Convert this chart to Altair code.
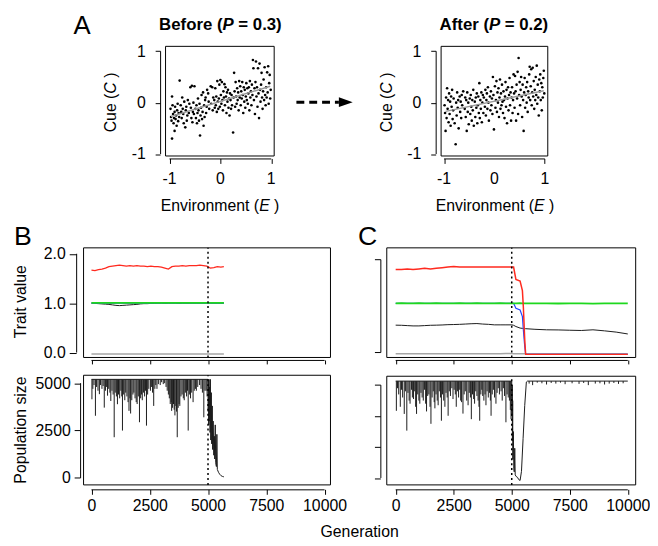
import altair as alt
import pandas as pd

FONT = "Liberation Sans"
RED, GREEN, BLUE, BLACK, GRAY = "#ff2a1f", "#1ed81e", "#2244ff", "#1a1a1a", "#a6a6a6"

# ---------------- Panel A: cue vs environment ----------------
BEFORE = [
    (-0.98, -0.12), (-0.97, -0.28), (-0.96, -0.35), (-0.95, -0.70), (-0.95, 0.12), (-0.94, -0.05),
    (-0.93, -0.22), (-0.92, -0.40), (-0.91, -0.30), (-0.90, -0.18), (-0.90, -0.55),
    (-0.89, -0.08), (-0.88, -0.32), (-0.87, -0.25), (-0.86, -0.45), (-0.85, -0.15), (-0.84, -0.02),
    (-0.83, -0.36), (-0.82, -0.20), (-0.80, 0.43), (-0.81, -0.28),
    (-0.78, -0.05), (-0.77, -0.18), (-0.76, -0.30), (-0.75, 0.10), (-0.74, -0.12), (-0.73, -0.22),
    (-0.72, -0.40), (-0.71, 0.02),
    (-0.69, -0.48), (-0.68, -0.15), (-0.67, -0.08), (-0.66, -0.35), (-0.65, -0.25), (-0.64, 0.05),
    (-0.62, -0.20), (-0.61, -0.02),
    (-0.59, 0.30), (-0.58, -0.10), (-0.57, -0.30), (-0.56, 0.33), (-0.55, -0.38), (-0.54, -0.18),
    (-0.53, 0.00), (-0.52, -0.22), (-0.51, 0.32),
    (-0.49, -0.12), (-0.48, -0.30), (-0.47, -0.05), (-0.46, -0.40), (-0.45, -0.20), (-0.44, 0.08),
    (-0.43, -0.15), (-0.42, -0.35), (-0.40, -0.64), (-0.41, -0.02),
    (-0.39, -0.25), (-0.38, -0.10), (-0.37, 0.15), (-0.36, -0.32), (-0.35, -0.18), (-0.34, 0.20),
    (-0.33, -0.45), (-0.32, -0.05), (-0.31, -0.28), (-0.30, 0.05),
    (-0.29, 0.10), (-0.28, -0.20), (-0.27, -0.08), (-0.26, 0.25), (-0.24, 0.18), (-0.23, 0.02),
    (-0.22, -0.12),
    (-0.19, 0.32), (-0.18, -0.02), (-0.16, 0.30), (-0.15, -0.15), (-0.14, 0.10), (-0.12, 0.05),
    (-0.11, -0.10), (-0.10, 0.28),
    (-0.09, -0.05), (-0.08, 0.12), (-0.07, -0.18), (-0.06, 0.42), (-0.05, 0.02), (-0.04, -0.12),
    (-0.03, 0.08), (-0.02, 0.35), (-0.01, -0.08),
    (0.00, 0.44), (0.01, 0.15), (0.02, -0.02), (0.03, 0.40), (0.04, 0.05), (0.05, -0.15),
    (0.06, 0.22), (0.07, 0.10), (0.08, 0.36), (0.09, -0.05),
    (0.10, 0.30), (0.11, 0.12), (0.12, -0.20), (0.13, 0.20), (0.14, 0.02), (0.15, 0.25),
    (0.16, -0.10), (0.17, 0.08), (0.18, -0.25), (0.19, 0.18),
    (0.20, 0.05), (0.21, -0.12), (0.22, 0.15), (0.23, -0.05), (0.25, -0.58), (0.26, 0.10),
    (0.27, 0.58), (0.28, 0.22), (0.29, -0.08),
    (0.30, 0.40), (0.31, 0.12), (0.32, -0.02), (0.33, 0.28), (0.34, 0.05), (0.35, 0.20),
    (0.36, -0.15), (0.37, 0.42), (0.38, 0.10), (0.39, 0.32),
    (0.40, -0.05), (0.41, 0.22), (0.42, 0.08), (0.43, 0.40), (0.44, 0.15), (0.45, -0.20),
    (0.46, 0.30), (0.47, 0.02), (0.48, 0.25), (0.49, -0.10),
    (0.50, 0.12), (0.51, 0.38), (0.52, 0.05), (0.53, 0.28), (0.54, -0.02), (0.55, 0.18),
    (0.56, 0.30), (0.57, -0.15), (0.58, 0.42), (0.59, 0.10),
    (0.60, 0.22), (0.61, -0.05), (0.62, 0.35), (0.63, 0.15), (0.64, 0.83), (0.65, 0.67),
    (0.66, 0.05), (0.67, 0.28), (0.68, -0.22), (0.69, 0.40), (0.70, 0.80),
    (0.71, 0.12), (0.72, 0.30), (0.73, -0.08), (0.74, 0.67), (0.75, 0.18), (0.76, -0.30),
    (0.77, 0.76), (0.78, 0.25), (0.79, 0.02),
    (0.80, 0.35), (0.81, 0.58), (0.82, 0.10), (0.83, -0.12), (0.84, 0.22), (0.85, 0.45),
    (0.86, 0.05), (0.87, 0.69), (0.88, 0.15), (0.89, -0.05),
    (0.90, 0.30), (0.91, 0.10), (0.92, 0.59), (0.93, 0.20), (0.94, 0.71), (0.95, -0.02),
    (0.96, 0.38), (0.97, 0.54), (0.98, 0.08), (0.99, 0.25),
]
AFTER = [
    (-0.99, -0.05), (-0.98, -0.20), (-0.97, -0.55), (-0.96, 0.10), (-0.95, -0.30), (-0.94, 0.28),
    (-0.93, -0.12), (-0.92, 0.05), (-0.91, -0.38), (-0.90, 0.18),
    (-0.89, -0.22), (-0.88, 0.02), (-0.87, -0.45), (-0.86, 0.12), (-0.85, -0.08), (-0.84, 0.25),
    (-0.83, -0.32), (-0.82, -0.15), (-0.81, 0.08),
    (-0.79, -0.40), (-0.77, -0.81), (-0.76, 0.00), (-0.75, -0.25), (-0.74, 0.20), (-0.73, -0.10),
    (-0.72, 0.05), (-0.71, -0.50),
    (-0.69, 0.12), (-0.68, -0.18), (-0.67, 0.02), (-0.66, -0.30), (-0.65, 0.15), (-0.64, -0.05),
    (-0.62, 0.22),
    (-0.59, -0.12), (-0.58, 0.10), (-0.57, -0.28), (-0.56, 0.05), (-0.55, -0.55), (-0.54, 0.20),
    (-0.53, -0.18), (-0.52, 0.00), (-0.51, -0.42),
    (-0.49, 0.08), (-0.48, -0.22), (-0.47, 0.15), (-0.46, -0.08), (-0.45, -0.35), (-0.44, 0.05),
    (-0.43, -0.15), (-0.42, 0.25), (-0.41, -0.45),
    (-0.39, 0.02), (-0.38, -0.28), (-0.37, 0.10), (-0.36, -0.10), (-0.35, 0.18), (-0.34, -0.40),
    (-0.33, -0.05), (-0.32, 0.12), (-0.31, -0.20), (-0.30, 0.38),
    (-0.29, -0.30), (-0.28, 0.05), (-0.27, -0.12), (-0.26, 0.20), (-0.25, -0.38), (-0.24, 0.00),
    (-0.23, 0.15), (-0.22, -0.20), (-0.21, 0.10),
    (-0.19, -0.08), (-0.18, 0.25), (-0.17, -0.25), (-0.16, 0.05), (-0.15, 0.18), (-0.14, -0.12),
    (-0.13, 0.30), (-0.12, 0.00), (-0.11, -0.35),
    (-0.09, 0.12), (-0.08, -0.15), (-0.07, 0.22), (-0.06, -0.05), (-0.05, 0.08), (-0.04, -0.22),
    (-0.03, 0.50), (-0.02, 0.15), (-0.01, -0.52),
    (0.01, 0.32), (0.02, -0.10), (0.03, 0.05), (0.04, 0.42), (0.05, -0.18), (0.06, 0.20),
    (0.07, 0.00), (0.08, 0.28), (0.09, -0.28),
    (0.10, 0.10), (0.11, 0.45), (0.12, -0.12), (0.13, 0.18), (0.14, -0.05), (0.15, 0.35),
    (0.16, 0.02), (0.17, -0.20), (0.18, 0.22), (0.19, 0.05),
    (0.20, -0.30), (0.21, 0.12), (0.22, 0.40), (0.23, -0.08), (0.24, 0.25), (0.25, -0.40),
    (0.26, 0.08), (0.27, 0.30), (0.28, -0.15), (0.29, 0.15),
    (0.30, 0.48), (0.31, -0.05), (0.32, 0.20), (0.33, -0.35), (0.34, 0.10), (0.35, 0.30),
    (0.36, -0.20), (0.37, 0.05), (0.38, 0.55), (0.39, 0.18),
    (0.40, -0.10), (0.41, 0.52), (0.42, 0.22), (0.43, -0.35), (0.44, 0.35), (0.45, 0.08),
    (0.46, 0.60), (0.47, -0.22), (0.48, 0.87), (0.49, 0.15),
    (0.50, 0.40), (0.51, -0.05), (0.52, 0.25), (0.53, 0.50), (0.54, 0.12), (0.55, -0.28),
    (0.56, 0.35), (0.57, 0.05), (0.58, -0.55), (0.59, 0.20),
    (0.60, 0.48), (0.61, -0.10), (0.62, 0.15), (0.63, 0.30), (0.64, 0.00), (0.65, 0.40),
    (0.66, -0.18), (0.67, 0.22), (0.68, 0.10), (0.69, 0.55),
    (0.70, 0.70), (0.71, 0.05), (0.72, 0.32), (0.73, 0.65), (0.74, -0.05), (0.75, 0.20),
    (0.76, 0.68), (0.77, 0.12), (0.78, 0.42), (0.79, -0.12),
    (0.80, 0.25), (0.81, 0.05), (0.82, 0.50), (0.83, 0.15), (0.84, 0.72), (0.85, -0.02),
    (0.86, 0.35), (0.87, 0.10), (0.88, -0.25), (0.89, 0.45),
    (0.90, 0.22), (0.91, 0.55), (0.92, 0.05), (0.93, 0.38), (0.94, -0.15), (0.95, 0.30),
    (0.96, 0.10), (0.97, 0.48), (0.98, 0.62), (0.99, 0.18),
]
BEFORE_FIT = [(-0.97, -0.27), (0.98, 0.32)]
AFTER_FIT = [(-0.97, -0.17), (0.98, 0.23)]
SCATTER_TICKS = [-1, 0, 1]
SCATTER_TICK_TEXT = ["-1", "0", "1"]

# ---------------- Panels B / C: trait values ----------------
GEN_TICKS = [0, 2500, 5000, 7500, 10000]
SHIFT_GEN = 5000

B_GEN = [0, 150, 300, 450, 600, 750, 900, 1050, 1200, 1350,
         1500, 1650, 1800, 1950, 2100, 2250, 2400, 2550, 2700, 2850,
         3000, 3150, 3300, 3450, 3600, 3750, 3900, 4050, 4200, 4350,
         4500, 4650, 4800, 4950, 5100, 5250, 5400, 5550, 5680]
B_RED = [1.67, 1.66, 1.68, 1.69, 1.71, 1.74, 1.75, 1.76, 1.77, 1.76,
         1.75, 1.76, 1.75, 1.76, 1.75, 1.75, 1.74, 1.75, 1.74, 1.74,
         1.73, 1.71, 1.69, 1.74, 1.75, 1.75, 1.76, 1.75, 1.76, 1.76,
         1.76, 1.77, 1.76, 1.75, 1.71, 1.72, 1.74, 1.73, 1.74]
B_BLACK = [1.00, 0.995, 0.99, 0.985, 0.98, 0.975, 0.965, 0.955, 0.95, 0.955,
           0.96, 0.965, 0.97, 0.975, 0.985, 0.99, 0.99, 0.995, 0.995, 1.0,
           1.0, 0.995, 1.0, 1.0, 1.0, 0.995, 1.0, 1.0, 1.0, 1.0,
           1.0, 1.0, 1.0, 1.0, 1.0, 1.0, 1.0, 1.0, 1.0]
B_BLUE = [1.0, 1.0, 1.0, 1.0, 1.0, 1.0, 1.0, 1.0, 1.0, 1.0,
          1.0, 1.0, 1.0, 1.0, 1.0, 1.0, 1.0, 1.0, 1.0, 1.0,
          1.0, 1.0, 1.0, 1.0, 1.0, 1.0, 1.0, 1.0, 1.0, 1.0,
          1.0, 1.0, 1.0, 1.0, 1.0, 1.0, 1.0, 1.0, 1.0]
B_GREEN = [1.005, 1.004, 1.006, 1.005, 1.005, 1.004, 1.005, 1.006, 1.005, 1.005,
           1.004, 1.005, 1.005, 1.006, 1.005, 1.004, 1.005, 1.005, 1.006, 1.005,
           1.005, 1.004, 1.005, 1.005, 1.006, 1.005, 1.005, 1.004, 1.005, 1.005,
           1.006, 1.005, 1.005, 1.004, 1.005, 1.005, 1.006, 1.005, 1.005]
B_GRAY = [-0.03, -0.031, -0.029, -0.03, -0.028, -0.03, -0.031, -0.03, -0.029, -0.03,
          -0.03, -0.028, -0.03, -0.031, -0.03, -0.029, -0.03, -0.03, -0.028, -0.03,
          -0.031, -0.03, -0.029, -0.03, -0.03, -0.028, -0.03, -0.031, -0.03, -0.029,
          -0.03, -0.03, -0.028, -0.03, -0.029, -0.03, -0.031, -0.03, -0.03]
B_TRAIT_TICKS = [0, 1, 2]

C_GEN = [0, 250, 500, 750, 1000, 1250, 1500, 1750, 2000, 2250,
         2500, 2750, 3000, 3250, 3500, 3750, 4000, 4250, 4500, 4750,
         5000, 5080, 5180, 5360, 5460, 5500, 5560, 5600,
         6000, 6500, 7000, 7500, 8000, 8500, 9000, 9500, 10000]
C_RED = [1.34, 1.34, 1.35, 1.34, 1.35, 1.36, 1.35, 1.36, 1.37, 1.38,
         1.39, 1.38, 1.38, 1.38, 1.38, 1.38, 1.38, 1.38, 1.38, 1.38,
         1.38, 1.38, 1.18, 1.155, 1.0, 0.74, 0.21, -0.03,
         -0.03, -0.03, -0.03, -0.03, -0.03, -0.03, -0.03, -0.03, -0.03]
C_BLUE = [0.795, 0.795, 0.795, 0.795, 0.795, 0.795, 0.795, 0.795, 0.795, 0.795,
          0.795, 0.795, 0.795, 0.795, 0.795, 0.795, 0.795, 0.795, 0.795, 0.795,
          0.795, 0.795, 0.714, 0.687, 0.58, 0.367, 0.10, -0.03,
          -0.03, -0.03, -0.03, -0.03, -0.03, -0.03, -0.03, -0.03, -0.03]
C_GREEN = [0.795, 0.796, 0.794, 0.795, 0.797, 0.795, 0.794, 0.796, 0.795, 0.795,
           0.794, 0.796, 0.795, 0.795, 0.797, 0.795, 0.794, 0.795, 0.796, 0.795,
           0.795, 0.795, 0.794, 0.796, 0.795, 0.795, 0.794, 0.795,
           0.793, 0.795, 0.792, 0.794, 0.795, 0.791, 0.794, 0.795, 0.794]
C_BLACK = [0.442, 0.44, 0.435, 0.43, 0.43, 0.435, 0.44, 0.442, 0.445, 0.45,
           0.452, 0.455, 0.46, 0.465, 0.468, 0.46, 0.455, 0.447, 0.447, 0.447,
           0.447, 0.44, 0.42, 0.395, 0.39, 0.39, 0.385, 0.385,
           0.375, 0.367, 0.365, 0.36, 0.356, 0.367, 0.35, 0.33, 0.30]
C_GRAY = [-0.02, -0.021, -0.019, -0.02, -0.018, -0.02, -0.021, -0.02, -0.019, -0.02,
          -0.02, -0.018, -0.02, -0.021, -0.02, -0.019, -0.02, -0.02, -0.018, -0.015,
          -0.015, -0.02, -0.02, -0.02, -0.02, -0.02, -0.02, -0.02,
          -0.02, -0.02, -0.02, -0.02, -0.02, -0.02, -0.02, -0.02, -0.02]
C_TRAIT_TICKS = [0, 0.5, 1.0, 1.5]

# ---------------- Panels B / C: population size ----------------
B_POP_MAX = 5200
B_POP_LINE = [(0, 5200), (5000, 5200), (5010, 3500), (5020, 5100), (5030, 2800), (5040, 5200),
              (5060, 3000), (5070, 4800), (5090, 2400), (5100, 5200), (5120, 2000), (5140, 4500),
              (5160, 1800), (5180, 3800), (5200, 1500), (5220, 3000), (5250, 1200), (5270, 2200),
              (5290, 1000), (5310, 2800), (5330, 800), (5360, 600), (5380, 2300), (5400, 450),
              (5450, 300), (5500, 200), (5560, 120), (5620, 80), (5680, 60)]
B_POP_DIPS = [
    (20, 4150), (60, 4700), (110, 4900), (170, 3280), (220, 4800), (280, 4600), (340, 4420),
    (390, 4900), (450, 4700), (500, 4850), (550, 3710), (600, 4600), (650, 4800), (690, 4340),
    (740, 4700), (790, 4500), (830, 4060), (880, 4600), (930, 4400), (975, 2150), (1020, 4500),
    (1070, 4300), (1115, 3890), (1160, 4400), (1210, 4200), (1260, 4600), (1300, 4300),
    (1330, 2500), (1380, 4400), (1430, 4100), (1470, 4500), (1520, 4300), (1570, 4000),
    (1610, 3540), (1650, 4200), (1680, 3400), (1730, 4100), (1780, 4400), (1820, 4500),
    (1870, 4200), (1920, 4000), (1960, 3900), (2010, 4300), (2060, 2940), (2110, 4200),
    (2150, 4400), (2180, 4100), (2230, 4500), (2280, 4300), (2320, 4600), (2360, 2760),
    (2410, 4400), (2460, 4700), (2530, 4600), (2580, 4800), (2620, 4500), (2670, 3800),
    (2720, 4700), (2760, 4900), (2810, 4700), (2870, 4950), (2950, 4900), (3010, 5050),
    (3080, 4950), (3140, 5000), (3200, 4800), (3250, 4600), (3300, 4400), (3340, 4200),
    (3380, 3900), (3420, 4000), (3440, 3540), (3480, 3700), (3520, 3900), (3550, 3600),
    (3580, 3300), (3620, 3800), (3650, 3500), (3680, 2150), (3720, 3700), (3760, 3900),
    (3790, 3800), (3840, 4300), (3890, 4400), (3940, 4200), (3980, 4100), (4030, 4500),
    (4080, 4300), (4120, 4600), (4150, 2500), (4200, 4400), (4250, 4200), (4300, 4500),
    (4360, 4000), (4410, 4600), (4460, 4700), (4500, 4600), (4560, 4800), (4640, 4900),
    (4700, 4700), (4760, 4500), (4820, 3200), (4870, 4600), (4920, 4600), (4960, 4300),
]
B_POP_TICKS = [0, 2500, 5000]

C_POP_MAX = 3130
C_POP_LINE = [(0, 3130), (5000, 3130), (5010, 2000), (5020, 3000), (5030, 1200), (5040, 2500),
              (5050, 600), (5070, 1500), (5090, 300), (5110, 200), (5130, 960), (5150, 100),
              (5190, 50), (5250, 20), (5300, -50), (5360, -80), (5420, 214), (5490, 1280),
              (5560, 2340), (5630, 3100), (5680, 3130), (10000, 3130)]
C_POP_DIPS = [
    (30, 2170), (80, 2900), (130, 2700), (200, 2300), (250, 2850), (300, 2600), (370, 2070),
    (420, 2800), (480, 1530), (530, 2750), (580, 2500), (620, 2400), (680, 2850), (720, 2600),
    (770, 2550), (820, 2800), (860, 2300), (900, 2070), (950, 2700), (1000, 2500), (1040, 2400),
    (1090, 2750), (1140, 2600), (1190, 2500), (1240, 2850), (1290, 2400), (1330, 2150),
    (1380, 2650), (1430, 2700), (1480, 2300), (1520, 1750), (1570, 2600), (1620, 2800),
    (1660, 2450), (1690, 2250), (1740, 2700), (1790, 2500), (1830, 2350), (1880, 2800),
    (1930, 2600), (1970, 1850), (2020, 2700), (2070, 2500), (2120, 2300), (2170, 2750),
    (2220, 2600), (2260, 2010), (2310, 2800), (2360, 2650), (2420, 2900), (2470, 2550),
    (2520, 2850), (2570, 2700), (2610, 2300), (2660, 2800), (2710, 2600), (2760, 2850),
    (2800, 2500), (2840, 2450), (2900, 2080), (2950, 2700), (3000, 2800), (3060, 2500),
    (3120, 2350), (3170, 2750), (3220, 2600), (3260, 1900), (3310, 2700), (3360, 2550),
    (3400, 2400), (3450, 2800), (3500, 2650), (3550, 2500), (3590, 2300), (3620, 1850),
    (3670, 2700), (3710, 2850), (3750, 2650), (3800, 2500), (3850, 2700), (3890, 2350),
    (3940, 2800), (3990, 2600), (4040, 2750), (4080, 2500), (4110, 2010), (4160, 2700),
    (4210, 2850), (4260, 2600), (4320, 2400), (4370, 2750), (4420, 2900), (4470, 2700),
    (4540, 2800), (4590, 2500), (4640, 2900), (4690, 2650), (4750, 1800), (4800, 2700),
    (4850, 2600), (4900, 2500), (4940, 2200), (4970, 1900),
    (5750, 3050), (5900, 3000), (6100, 3080), (6300, 3060), (6500, 3020), (6700, 3070),
    (6900, 3050), (7100, 3080), (7300, 3030), (7600, 3060), (7900, 3040), (8100, 3070),
    (8300, 3000), (8600, 3050), (8800, 3060), (9000, 3020), (9200, 3050), (9400, 3070),
    (9600, 3040), (9800, 3060),
]
C_POP_TICKS = [0, 1000, 2000, 3000]

# ---------------- layout (pixels inside one 642 x 532 view) ----------------
W, H = 642, 532
# box = (left, right, top, bottom); axis = (line position, tick length, label padding)
PANELS = {
    "AL": dict(box=(159, 269, 35, 146), xd=[-1.078, 1.058], yd=[-1.038, 1.096],
               xax=(149, 5, 7), yax=(154, 5, 10)),
    "AR": dict(box=(438, 546, 35, 146), xd=[-1.059, 1.059], yd=[-1.038, 1.096],
               xax=(149, 5, 7), yax=(433, 5, 10)),
    "BT": dict(box=(76, 326, 239, 350), xd=[-339, 10254], yd=[-0.10, 2.12],
               xax=(353, 4, 3), yax=(69, 7, 4)),
    "BB": dict(box=(76, 326, 368, 479), xd=[-339, 10254], yd=[-365, 5417],
               xax=(484, 5, 3), yax=(73, 6, 4)),
    "CT": dict(box=(383, 635, 239, 350), xd=[-383, 10340], yd=[-0.08, 1.691],
               xax=(353, 4, 3), yax=(377, 6, 4)),
    "CB": dict(box=(383, 635, 369, 479), xd=[-383, 10340], yd=[-223, 3287],
               xax=(484, 5, 3), yax=(377, 6, 4)),
}

ONE = pd.DataFrame({"k": [0]})
HYPHEN = "replace(datum.label, '\u2212', '-')"
AX = dict(domain=False, grid=False, tickColor="black", tickWidth=1, labelFont=FONT,
          labelFontSize=16, labelColor="black", labelFlush=False, labelOverlap=False, title=None)


def scales(p):
    l, r, t, b = PANELS[p]["box"]
    xs = alt.Scale(domain=PANELS[p]["xd"], range=[l + 0.5, r + 0.5], nice=False, zero=False)
    ys = alt.Scale(domain=PANELS[p]["yd"], range=[b + 0.5, t + 0.5], nice=False, zero=False)
    return xs, ys


def axes(p, xvals, yvals, xlabels=True, ylabels=True, xfmt="d", yfmt="d", expr=None):
    xpos, xtick, xpad = PANELS[p]["xax"]
    ypos, ytick, ypad = PANELS[p]["yax"]
    extra = {"labelExpr": expr} if expr else {}
    xa = alt.Axis(orient="bottom", values=xvals, labels=xlabels, offset=xpos - H, tickSize=xtick,
                  labelPadding=xpad, format=xfmt, **extra, **AX)
    ya = alt.Axis(orient="left", values=yvals, labels=ylabels, offset=-ypos, tickSize=ytick,
                  labelPadding=ypad, format=yfmt, **extra, **AX)
    return xa, ya


def frame(p):
    xs, ys = scales(p)
    d = pd.DataFrame({"x": [PANELS[p]["xd"][0]], "x2": [PANELS[p]["xd"][1]],
                      "y": [PANELS[p]["yd"][0]], "y2": [PANELS[p]["yd"][1]]})
    return alt.Chart(d).mark_rect(fillOpacity=0, stroke="black", strokeWidth=1).encode(
        x=alt.X("x:Q", scale=xs, axis=None), x2="x2:Q",
        y=alt.Y("y:Q", scale=ys, axis=None), y2="y2:Q")


def axis_lines(p, xvals, yvals):
    xs, ys = scales(p)
    dx = pd.DataFrame({"a": [min(xvals)], "b": [max(xvals)]})
    dy = pd.DataFrame({"a": [min(yvals)], "b": [max(yvals)]})
    return [
        alt.Chart(dx).mark_rule(color="black", strokeWidth=1).encode(
            x=alt.X("a:Q", scale=xs, axis=None), x2="b:Q", y=alt.value(PANELS[p]["xax"][0] + 0.5)),
        alt.Chart(dy).mark_rule(color="black", strokeWidth=1).encode(
            y=alt.Y("a:Q", scale=ys, axis=None), y2="b:Q", x=alt.value(PANELS[p]["yax"][0] + 0.5)),
    ]


def txt(text, x, y, size=16, weight="normal", style="normal", align="left",
        baseline="alphabetic", angle=0):
    return alt.Chart(ONE).mark_text(
        text=text, font=FONT, fontSize=size, fontWeight=weight, fontStyle=style,
        align=align, baseline=baseline, angle=angle, color="black"
    ).encode(x=alt.value(x), y=alt.value(y))


def series(p, gens, vals, color, width, xa=None, ya=None):
    xs, ys = scales(p)
    d = pd.DataFrame({"g": gens, "v": vals})
    return alt.Chart(d).mark_line(color=color, strokeWidth=width).encode(
        x=alt.X("g:Q", scale=xs, axis=xa), y=alt.Y("v:Q", scale=ys, axis=ya))


def dips(p, pairs, top):
    xs, ys = scales(p)
    d = pd.DataFrame(pairs, columns=["g", "v"]).assign(top=top)
    return alt.Chart(d).mark_rule(color=BLACK, strokeWidth=1).encode(
        x=alt.X("g:Q", scale=xs, axis=None), y=alt.Y("v:Q", scale=ys, axis=None), y2="top:Q")


def shift_rule(p):
    xs, ys = scales(p)
    d = pd.DataFrame({"g": [SHIFT_GEN], "lo": [PANELS[p]["yd"][0]], "hi": [PANELS[p]["yd"][1]]})
    return alt.Chart(d).mark_rule(color="black", strokeWidth=1.5, strokeDash=[2, 3]).encode(
        x=alt.X("g:Q", scale=xs, axis=None), y=alt.Y("lo:Q", scale=ys, axis=None), y2="hi:Q")


def scatter(p, points, fit):
    xs, ys = scales(p)
    xa, ya = axes(p, SCATTER_TICKS, SCATTER_TICKS, xlabels=False, expr=HYPHEN)
    d = pd.DataFrame(points, columns=["E", "C"])
    f = pd.DataFrame(fit, columns=["E", "C"])
    lab = pd.DataFrame({"v": SCATTER_TICKS, "t": SCATTER_TICK_TEXT})
    xpos, xtick, xpad = PANELS[p]["xax"]
    return [
        alt.Chart(d).mark_circle(size=7, color="black", opacity=1).encode(
            x=alt.X("E:Q", scale=xs, axis=xa), y=alt.Y("C:Q", scale=ys, axis=ya)),
        alt.Chart(f).mark_line(color="#9a9a9a", strokeWidth=1.5).encode(
            x=alt.X("E:Q", scale=xs, axis=None), y=alt.Y("C:Q", scale=ys, axis=None)),
        alt.Chart(lab).mark_text(font=FONT, fontSize=16, color="black", align="center",
                                 baseline="top").encode(
            x=alt.X("v:Q", scale=xs, axis=None), y=alt.value(xpos + xtick + xpad + 0.5),
            text="t:N"),
        frame(p),
    ] + axis_lines(p, SCATTER_TICKS, SCATTER_TICKS)


layers = []

# ---- Panel A ----
layers += scatter("AL", BEFORE, BEFORE_FIT)
layers += scatter("AR", AFTER, AFTER_FIT)
layers += [
    txt("A", 75, 23, 26, align="center"),
    txt("Before (", 153, 19, 17, "bold"), txt("P", 217.2, 19, 17, "bold", "italic"),
    txt("= 0.3)", 233.2, 19, 17, "bold"),
    txt("After (", 437, 19, 17, "bold"), txt("P", 487, 19, 17, "bold", "italic"),
    txt("= 0.2)", 503, 19, 17, "bold"),
    txt("Environment (", 154.7, 202), txt("E", 254.3, 202, style="italic"), txt(")", 269.4, 202),
    txt("Environment (", 433, 202), txt("E", 532.6, 202, style="italic"), txt(")", 547.7, 202),
    txt("Cue (", 104, 122.5, angle=270, baseline="middle"),
    txt("C", 104, 83.4, angle=270, baseline="middle", style="italic"),
    txt(")", 104, 67.4, angle=270, baseline="middle"),
    txt("Cue (", 383.7, 122.5, angle=270, baseline="middle"),
    txt("C", 383.7, 83.4, angle=270, baseline="middle", style="italic"),
    txt(")", 383.7, 67.4, angle=270, baseline="middle"),
    alt.Chart(ONE).mark_rule(color="black", strokeWidth=3, strokeDash=[8, 5]).encode(
        x=alt.value(292), x2=alt.value(335), y=alt.value(92)),
    alt.Chart(ONE).mark_point(shape="M-1,-0.7L1,0L-1,0.7Z", filled=True, size=196,
                              color="black", opacity=1).encode(x=alt.value(342), y=alt.value(92)),
]

# ---- Panel B ----
xa, ya = axes("BT", GEN_TICKS, B_TRAIT_TICKS, xlabels=False, yfmt=".1f")
layers += [
    series("BT", B_GEN, B_GRAY, GRAY, 1.5, xa, ya),
    series("BT", B_GEN, B_BLACK, BLACK, 1),
    series("BT", B_GEN, B_BLUE, BLUE, 1.2),
    series("BT", B_GEN, B_GREEN, GREEN, 1.8),
    series("BT", B_GEN, B_RED, RED, 1.3),
    shift_rule("BT"), frame("BT"),
] + axis_lines("BT", GEN_TICKS, B_TRAIT_TICKS)

xa, ya = axes("BB", GEN_TICKS, B_POP_TICKS)
layers += [
    series("BB", [q[0] for q in B_POP_LINE], [q[1] for q in B_POP_LINE], BLACK, 1, xa, ya),
    dips("BB", B_POP_DIPS, B_POP_MAX),
    shift_rule("BB"), frame("BB"),
] + axis_lines("BB", GEN_TICKS, B_POP_TICKS)

# ---- Panel C ----
xa, ya = axes("CT", GEN_TICKS, C_TRAIT_TICKS, xlabels=False, ylabels=False)
layers += [
    series("CT", C_GEN, C_GRAY, GRAY, 1.5, xa, ya),
    series("CT", C_GEN, C_BLACK, BLACK, 1),
    series("CT", C_GEN, C_BLUE, BLUE, 1.2),
    series("CT", C_GEN, C_GREEN, GREEN, 1.8),
    series("CT", C_GEN, C_RED, RED, 1.5),
    shift_rule("CT"), frame("CT"),
] + axis_lines("CT", GEN_TICKS, C_TRAIT_TICKS)

xa, ya = axes("CB", GEN_TICKS, C_POP_TICKS, ylabels=False)
layers += [
    series("CB", [q[0] for q in C_POP_LINE], [q[1] for q in C_POP_LINE], BLACK, 1, xa, ya),
    dips("CB", C_POP_DIPS, C_POP_MAX),
    shift_rule("CB"), frame("CB"),
] + axis_lines("CB", GEN_TICKS, C_POP_TICKS)

layers += [
    txt("B", 15, 237, 27, align="center"),
    txt("C", 364, 237, 27, align="center"),
    txt("Trait value", 13, 294, align="center", baseline="middle", angle=270),
    txt("Population size", 13, 424, align="center", baseline="middle", angle=270),
    txt("Generation", 356, 532, align="center"),
]

chart = alt.layer(*layers).resolve_scale(x="independent", y="independent").resolve_axis(
    x="independent", y="independent").properties(width=W, height=H, padding=0).configure_view(
    strokeWidth=0)

chart.save("out.html", embed_options={"renderer": "svg", "actions": False})
